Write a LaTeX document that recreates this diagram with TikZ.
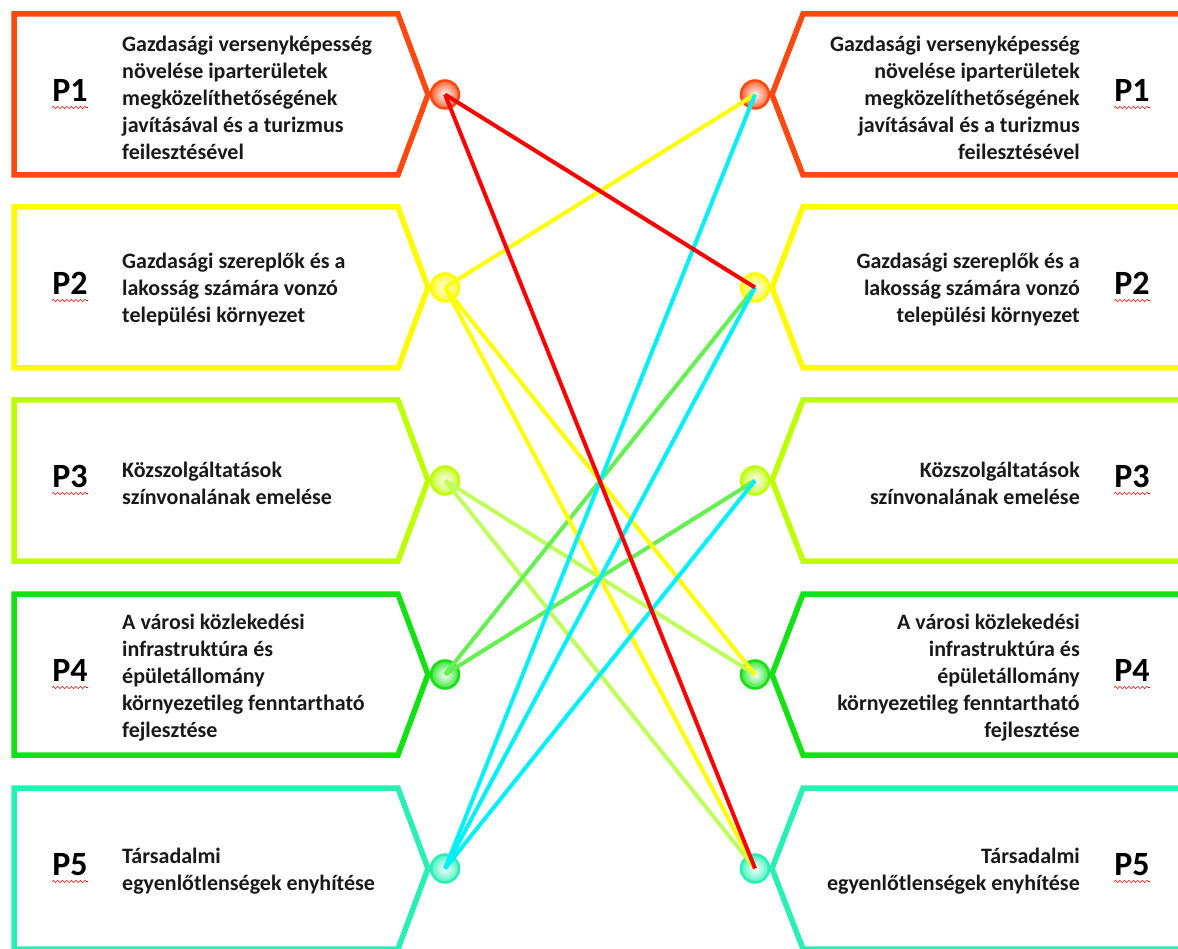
\documentclass[tikz,border=0pt]{standalone}
\usepackage{fontspec}
\setmainfont{Carlito}
\usetikzlibrary{decorations.pathmorphing}
\definecolor{c1}{RGB}{255,72,16}
\definecolor{c2}{RGB}{255,250,0}
\definecolor{c3}{RGB}{190,255,0}
\definecolor{c4}{RGB}{20,225,20}
\definecolor{c5}{RGB}{40,240,180}
\definecolor{l1}{RGB}{255,0,0}
\definecolor{l2}{RGB}{255,255,0}
\definecolor{l3}{RGB}{190,255,90}
\definecolor{l4}{RGB}{100,240,80}
\definecolor{l5}{RGB}{0,240,255}
\begin{document}
\begin{tikzpicture}[x=1pt,y=-1pt,
  boxline/.style={line width=5.5pt, line join=miter},
  link/.style={line width=4pt},
  dot/.style={circle, minimum size=28pt, inner sep=0pt, line width=2.5pt, draw=#1, inner color=white, outer color=#1!85},
  ttl/.style={font=\fontsize{22}{27}\selectfont\bfseries, inner sep=0pt, text=black!90},
  plab/.style={font=\fontsize{34}{34}\selectfont\bfseries, inner sep=0pt},
  wave/.style={red, line width=0.6pt, decorate, decoration={snake, amplitude=1.1pt, segment length=4.5pt}}
]
\useasboundingbox (0,0) rectangle (1178,949);
\clip (0,0) rectangle (1178,949);
\foreach \i/\t in {1/14,2/207,3/400,4/594,5/788}{
  \pgfmathsetmacro\b{\t+161}
  \pgfmathsetmacro\m{\t+80.5}
  \draw[boxline, draw=c\i] (14,\t) -- (398,\t) -- (428,\m) -- (398,\b) -- (14,\b) -- cycle;
  \draw[boxline, draw=c\i] (1200,\t) -- (803,\t) -- (772,\m) -- (803,\b) -- (1200,\b);
  \node[dot=c\i] (L\i) at (445,\m) {};
  \node[dot=c\i] (R\i) at (755,\m) {};
  \node[plab] (PL\i) at (70,{\m-4}) {P\i};
  \node[plab] (PR\i) at (1132,{\m-4}) {P\i};
  \draw[wave] (52,{\m+13}) -- (88,{\m+13});
  \draw[wave] (1114,{\m+13}) -- (1150,{\m+13});
}
\node[ttl, anchor=west, align=left] (TL1) at (122,98) {Gazdasági versenyképesség\\növelése iparterületek\\megközelíthetőségének\\javításával és a turizmus\\feilesztésével};
\node[ttl, anchor=east, align=right] (TR1) at (1080,98) {Gazdasági versenyképesség\\növelése iparterületek\\megközelíthetőségének\\javításával és a turizmus\\feilesztésével};
\node[ttl, anchor=west, align=left] (TL2) at (122,290) {Gazdasági szereplők és a\\lakosság számára vonzó\\települési környezet};
\node[ttl, anchor=east, align=right] (TR2) at (1080,290) {Gazdasági szereplők és a\\lakosság számára vonzó\\települési környezet};
\node[ttl, anchor=west, align=left] (TL3) at (122,483) {Közszolgáltatások\\színvonalának emelése};
\node[ttl, anchor=east, align=right] (TR3) at (1080,483) {Közszolgáltatások\\színvonalának emelése};
\node[ttl, anchor=west, align=left] (TL4) at (122,678) {A városi közlekedési\\infrastruktúra és\\épületállomány\\környezetileg fenntartható\\fejlesztése};
\node[ttl, anchor=east, align=right] (TR4) at (1080,678) {A városi közlekedési\\infrastruktúra és\\épületállomány\\környezetileg fenntartható\\fejlesztése};
\node[ttl, anchor=west, align=left] (TL5) at (122,871) {Társadalmi\\egyenlőtlenségek enyhítése};
\node[ttl, anchor=east, align=right] (TR5) at (1080,871) {Társadalmi\\egyenlőtlenségek enyhítése};
% connectors
\draw[link, l3] (L3.center) -- (R4.center);
\draw[link, l3] (L3.center) -- (R5.center);
\draw[link, l4] (L4.center) -- (R2.center);
\draw[link, l4] (L4.center) -- (R3.center);
\draw[link, l2] (L2.center) -- (R1.center);
\draw[link, l2] (L2.center) -- (R4.center);
\draw[link, l2] (L2.center) -- (R5.center);
\draw[link, l5] (L5.center) -- (R1.center);
\draw[link, l5] (L5.center) -- (R2.center);
\draw[link, l5] (L5.center) -- (R3.center);
\draw[link, l1] (L1.center) -- (R2.center);
\draw[link, l1] (L1.center) -- (R5.center);
\end{tikzpicture}
\end{document}
